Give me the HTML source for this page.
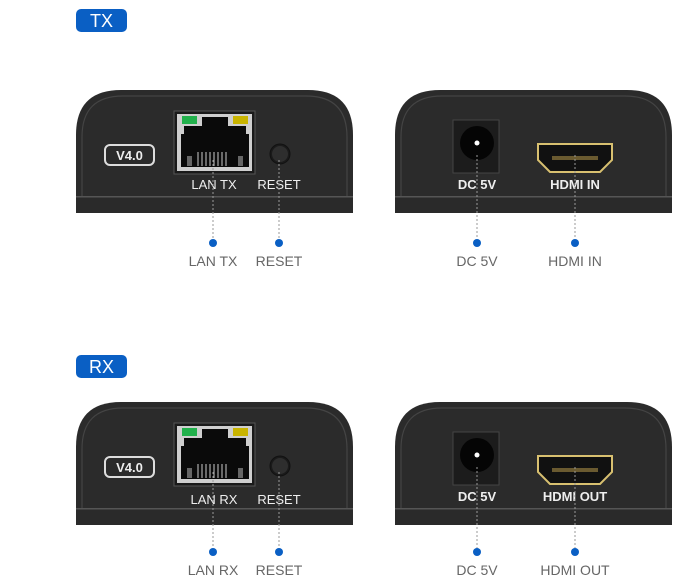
<!DOCTYPE html>
<html><head><meta charset="utf-8"><style>
html,body{margin:0;padding:0;background:#fff;}
svg{display:block;}
text{font-family:"Liberation Sans",Arial,sans-serif;}
</style></head><body>
<svg width="700" height="583" viewBox="0 0 700 583" xmlns="http://www.w3.org/2000/svg">
<defs>
<g id="body">
  <path d="M0,123 L0,45 Q0,0 45,0 L232,0 Q277,0 277,45 L277,123 Z" fill="#2b2b2b"/>
  <path d="M6,106 L6,47 Q6,6 47,6 L230,6 Q271,6 271,47 L271,106" fill="none" stroke="#444" stroke-width="1.2"/>
  <rect x="0" y="106" width="277" height="1.5" fill="#555"/>
  <rect x="0" y="107.5" width="277" height="15.5" fill="#2a2a2a"/>
</g>
<g id="rj">
  <rect x="174" y="111" width="81" height="63" fill="#1a1a1a" stroke="#555" stroke-width="1"/>
  <rect x="177" y="114" width="75" height="57" fill="#cfcfcf"/>
  <path d="M184,126 L202,126 L202,117 L228,117 L228,126 L246,126 L246,134 L249,134 L249,167 L181,167 L181,134 L184,134 Z" fill="#0a0a0a"/>
  <rect x="182" y="116" width="15" height="8" fill="#22b14c"/>
  <rect x="233" y="116" width="15" height="8" fill="#c9b400"/>
  <rect x="187" y="156" width="5" height="10" fill="#666"/>
  <rect x="238" y="156" width="5" height="10" fill="#666"/>
  <g stroke="#aaa" stroke-width="1.2">
    <line x1="198" y1="152" x2="198" y2="166"/><line x1="202" y1="152" x2="202" y2="166"/>
    <line x1="206" y1="152" x2="206" y2="166"/><line x1="210" y1="152" x2="210" y2="166"/>
    <line x1="214" y1="152" x2="214" y2="166"/><line x1="218" y1="152" x2="218" y2="166"/>
    <line x1="222" y1="152" x2="222" y2="166"/><line x1="226" y1="152" x2="226" y2="166"/>
  </g>
</g>
<g id="hdmi">
  <path d="M538,144 L612,144 L612,160 L600,172 L550,172 L538,160 Z" fill="#111" stroke="#d8c070" stroke-width="2"/>
  <rect x="552" y="156" width="46" height="4" fill="#6a5a30"/>
</g>
</defs>

<rect x="76" y="9" width="51" height="23" rx="5" fill="#0a5fc4"/>
<text x="101.5" y="27" font-size="18" fill="#fff" text-anchor="middle">TX</text>
<rect x="76" y="355" width="51" height="23" rx="5" fill="#0a5fc4"/>
<text x="101.5" y="373" font-size="18" fill="#fff" text-anchor="middle">RX</text>

<g>
  <use href="#body" x="76" y="90"/>
  <use href="#body" x="395" y="90"/>
  <use href="#rj"/>
  <rect x="105" y="145" width="49" height="20" rx="5" fill="none" stroke="#ddd" stroke-width="2"/>
  <text x="129.5" y="160" font-size="13" font-weight="bold" fill="#eee" text-anchor="middle">V4.0</text>
  <circle cx="280" cy="154" r="10" fill="#1a1a1a" stroke="#111"/>
  <circle cx="280" cy="154" r="8" fill="#2e2e2e"/>
  <text x="214" y="189" font-size="13" fill="#eee" text-anchor="middle">LAN TX</text>
  <text x="279" y="189" font-size="13" fill="#eee" text-anchor="middle">RESET</text>
  <rect x="453" y="120" width="46" height="53" fill="#1c1c1c" stroke="#444"/>
  <circle cx="477" cy="143" r="17" fill="#050505"/>
  <circle cx="477" cy="143" r="2.5" fill="#fff"/>
  <use href="#hdmi"/>
  <text x="477" y="189" font-size="13" font-weight="bold" fill="#eee" text-anchor="middle">DC 5V</text>
  <text x="575" y="189" font-size="13" font-weight="bold" fill="#eee" text-anchor="middle">HDMI IN</text>
  <g stroke="#999" stroke-width="1" stroke-dasharray="2,2">
    <line x1="213" y1="160" x2="213" y2="240"/><line x1="279" y1="160" x2="279" y2="240"/>
    <line x1="477" y1="155" x2="477" y2="240"/><line x1="575" y1="155" x2="575" y2="240"/>
  </g>
  <g fill="#0a5fc4"><circle cx="213" cy="243" r="4"/><circle cx="279" cy="243" r="4"/><circle cx="477" cy="243" r="4"/><circle cx="575" cy="243" r="4"/></g>
  <g font-size="14" fill="#666" text-anchor="middle">
    <text x="213" y="266">LAN TX</text><text x="279" y="266">RESET</text>
    <text x="477" y="266">DC 5V</text><text x="575" y="266">HDMI IN</text>
  </g>
</g>

<g transform="translate(0,312)">
  <use href="#body" x="76" y="90"/>
  <use href="#body" x="395" y="90"/>
  <use href="#rj"/>
  <rect x="105" y="145" width="49" height="20" rx="5" fill="none" stroke="#ddd" stroke-width="2"/>
  <text x="129.5" y="160" font-size="13" font-weight="bold" fill="#eee" text-anchor="middle">V4.0</text>
  <circle cx="280" cy="154" r="10" fill="#1a1a1a" stroke="#111"/>
  <circle cx="280" cy="154" r="8" fill="#2e2e2e"/>
  <text x="214" y="192" font-size="13" fill="#eee" text-anchor="middle">LAN RX</text>
  <text x="279" y="192" font-size="13" fill="#eee" text-anchor="middle">RESET</text>
  <rect x="453" y="120" width="46" height="53" fill="#1c1c1c" stroke="#444"/>
  <circle cx="477" cy="143" r="17" fill="#050505"/>
  <circle cx="477" cy="143" r="2.5" fill="#fff"/>
  <use href="#hdmi"/>
  <text x="477" y="189" font-size="13" font-weight="bold" fill="#eee" text-anchor="middle">DC 5V</text>
  <text x="575" y="189" font-size="13" font-weight="bold" fill="#eee" text-anchor="middle">HDMI OUT</text>
  <g stroke="#999" stroke-width="1" stroke-dasharray="2,2">
    <line x1="213" y1="160" x2="213" y2="237"/><line x1="279" y1="160" x2="279" y2="237"/>
    <line x1="477" y1="155" x2="477" y2="237"/><line x1="575" y1="155" x2="575" y2="237"/>
  </g>
  <g fill="#0a5fc4"><circle cx="213" cy="240" r="4"/><circle cx="279" cy="240" r="4"/><circle cx="477" cy="240" r="4"/><circle cx="575" cy="240" r="4"/></g>
  <g font-size="14" fill="#666" text-anchor="middle">
    <text x="213" y="263">LAN RX</text><text x="279" y="263">RESET</text>
    <text x="477" y="263">DC 5V</text><text x="575" y="263">HDMI OUT</text>
  </g>
</g>
</svg>
</body></html>
